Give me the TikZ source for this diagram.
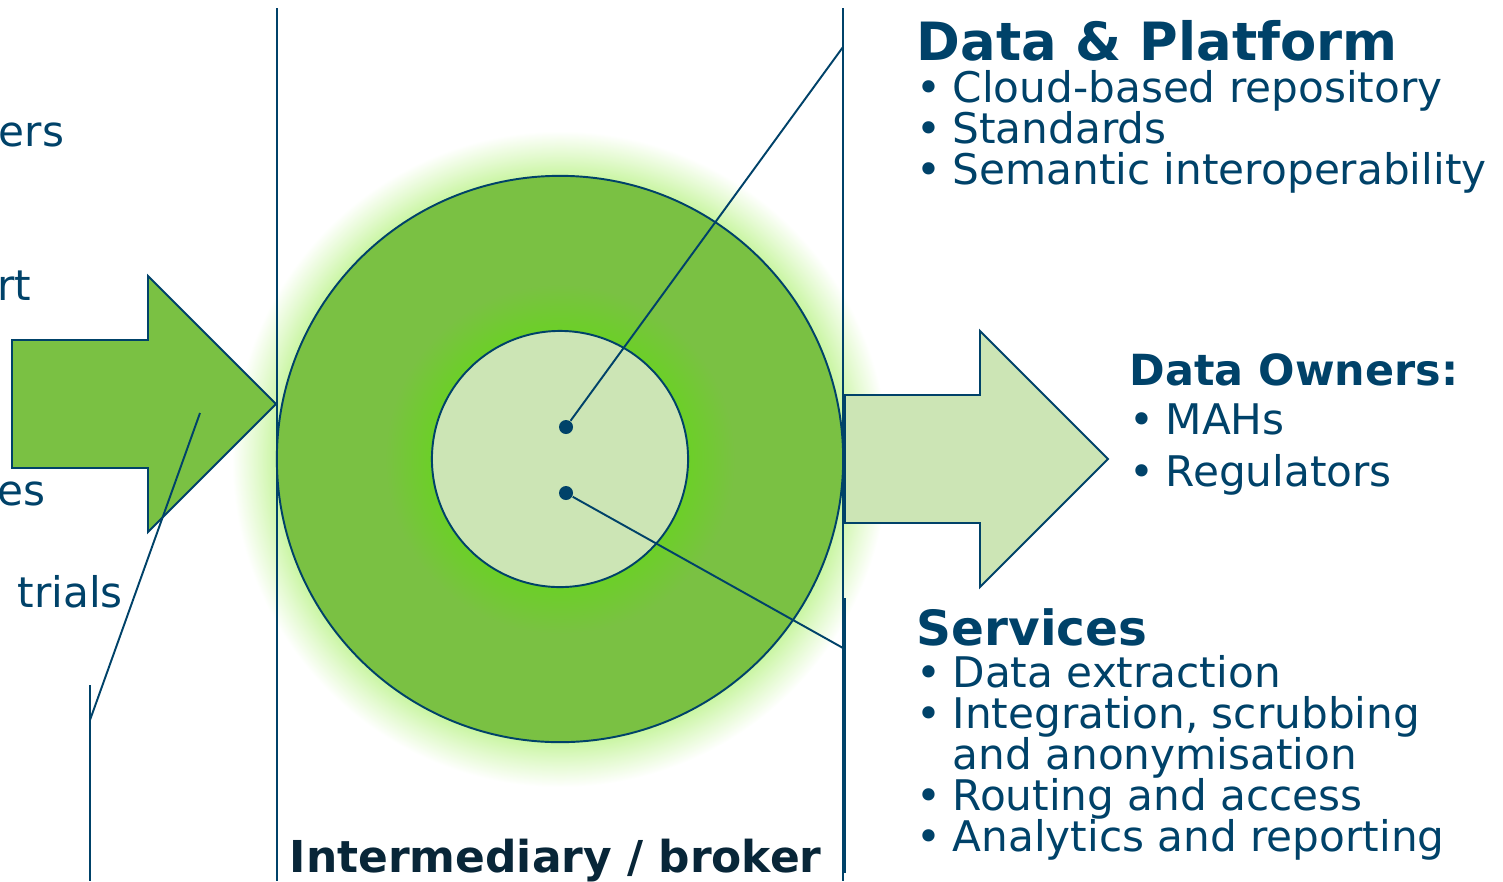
\documentclass[tikz,border=0pt]{standalone}
\usepackage{fontspec}
\setmainfont{DejaVu Sans}
\usetikzlibrary{positioning}

\definecolor{hubblue}{RGB}{0,66,105}
\definecolor{hubnavy}{RGB}{8,38,56}
\definecolor{ringgreen}{RGB}{122,193,67}
\definecolor{coregreen}{RGB}{204,229,181}
\definecolor{halogreen}{RGB}{200,245,160}
\definecolor{brightgreen}{RGB}{108,207,40}

\pgfdeclareradialshading{haloshade}{\pgfpointorigin}{color(0bp)=(halogreen); color(21.5bp)=(halogreen); color(23.2bp)=(halogreen!50!white); color(25bp)=(white); color(50bp)=(white)}
\pgfdeclareradialshading{coreshade}{\pgfpointorigin}{color(0bp)=(brightgreen); color(18.3bp)=(brightgreen); color(25bp)=(ringgreen); color(50bp)=(ringgreen)}

\newcommand{\hubitem}[1]{\makebox[10.2pt][l]{•}#1}
\newcommand{\hubcont}[1]{\makebox[10.2pt][l]{}#1}

\tikzset{
  hubline/.style={draw=hubblue, line width=0.55pt},
  hubdot/.style={circle, fill=hubblue, inner sep=0, minimum size=0.14cm},
  bodytext/.style={anchor=base west, inner sep=0, text=hubblue, font=\fontsize{12}{14}\selectfont},
  headtext/.style={anchor=base west, inner sep=0, text=hubblue, font=\bfseries\fontsize{15}{17}\selectfont},
}

\begin{document}
\begin{tikzpicture}[x=0.01cm, y=-0.01cm]
    % Frame
    \useasboundingbox (0,0) rectangle (1503,881);

    % Glow round the hub
    \shade[shading=haloshade] (560,459) circle (3.28cm);
    \draw[hubline, fill=ringgreen] (560,459) circle (2.83cm);
    \shade[shading=coreshade] (560,459) circle (1.75cm);
    \draw[hubline, fill=coregreen] (560,459) circle (1.28cm);

    % Arrows in and out
    \draw[hubline, fill=ringgreen] (12,340) -- (148,340) -- (148,276) -- (276,404)
        -- (148,532) -- (148,468) -- (12,468) -- cycle;
    \draw[hubline, fill=coregreen] (845,395) -- (980,395) -- (980,331) -- (1108,459)
        -- (980,587) -- (980,523) -- (845,523) -- cycle;

    % Column dividers
    \coordinate (divLtop) at (277,8);
    \coordinate (divLbot) at (277,881);
    \coordinate (divRtop) at (843,8);
    \coordinate (divRbot) at (843,881);
    \coordinate (divRtwinTop) at (845,598);
    \coordinate (divRtwinBot) at (845,873);
    \draw[hubline] (divLtop) -- (divLbot);
    \draw[hubline] (divRtop) -- (divRbot);
    \draw[hubline] (divRtwinTop) -- (divRtwinBot);

    % Callouts
    \node[hubdot] (dotPlatform) at (566,427) {};
    \node[hubdot] (dotServices) at (566,493) {};
    \coordinate (pinPlatform) at (843,47);
    \coordinate (pinServices) at (843,648);
    \draw[hubline] (dotPlatform) -- (pinPlatform);
    \draw[hubline] (dotServices) -- (pinServices);

    \coordinate (pinArrow) at (200,413);
    \coordinate (stemBend) at (90,720);
    \coordinate (stemTop) at (90,685);
    \coordinate (stemFoot) at (90,881);
    \draw[hubline] (pinArrow) -- (stemBend);
    \draw[hubline] (stemTop) -- (stemFoot);

    % Left column (cut off)
    \node[bodytext, anchor=base east] (srcA) at (65,146) {ers};
    \node[bodytext, anchor=base east] (srcB) at (32,300) {rt};
    \node[bodytext, anchor=base east] (srcC) at (46,505) {es};
    \node[bodytext] (srcD) at (17,607) {trials};

    % -- data & platform
    \node[headtext] (platHead) at (916,60) {Data \& Platform};
    \node[bodytext] (platA) at (916,102) {\hubitem{Cloud-based repository}};
    \node[bodytext] (platB) at (916,143) {\hubitem{Standards}};
    \node[bodytext] (platC) at (916,184) {\hubitem{Semantic interoperability}};

    % -- data owners
    \node[headtext, font=\bfseries\fontsize{12.2}{15}\selectfont] (ownHead) at (1129,385) {Data Owners:};
    \node[bodytext] (ownA) at (1129,434) {\hubitem{MAHs}};
    \node[bodytext] (ownB) at (1129,486) {\hubitem{Regulators}};

    % -- services
    \node[headtext, font=\bfseries\fontsize{13.8}{16}\selectfont] (servHead) at (916,645) {Services};
    \node[bodytext] (servA) at (916,687) {\hubitem{Data extraction}};
    \node[bodytext] (servB) at (916,728) {\hubitem{Integration, scrubbing}};
    \node[bodytext] (servC) at (916,769) {\hubcont{and anonymisation}};
    \node[bodytext] (servD) at (916,810) {\hubitem{Routing and access}};
    \node[bodytext] (servE) at (916,851) {\hubitem{Analytics and reporting}};

    % -- broker label
    \node[headtext, text=hubnavy, font=\bfseries\fontsize{12.5}{15}\selectfont] (brokerLbl) at (289,872) {Intermediary / broker};
\end{tikzpicture}
\end{document}
